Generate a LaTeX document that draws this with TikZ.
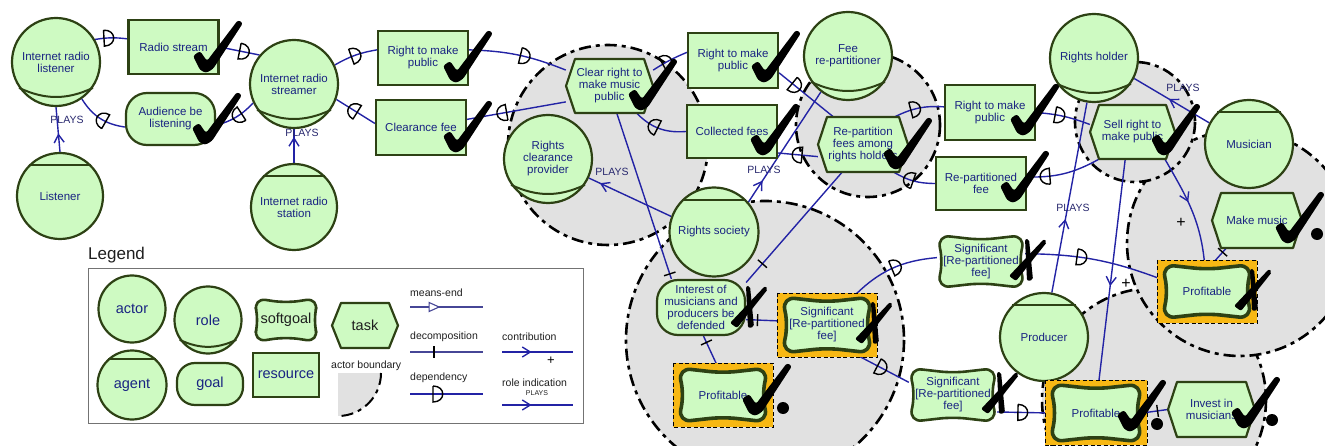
\documentclass[tikz,border=0pt]{standalone}
\usepackage{fontspec}
\setmainfont{Liberation Sans}
\usetikzlibrary{decorations.markings}

\definecolor{nodefill}{RGB}{206,250,194}
\definecolor{nodeline}{RGB}{45,65,20}
\definecolor{txt}{RGB}{25,35,130}
\definecolor{linkblue}{RGB}{35,35,165}
\definecolor{bgray}{RGB}{225,225,225}
\definecolor{hiyellow}{RGB}{247,184,20}
\definecolor{legdark}{RGB}{30,30,30}
\definecolor{leglink}{RGB}{70,70,150}
\definecolor{playsc}{RGB}{40,40,110}

\pgfdeclarelayer{bg}
\pgfdeclarelayer{lines}
\pgfdeclarelayer{marks}
\pgfsetlayers{bg,lines,main,marks}

\newcommand\ndfont{\fontsize{11.5}{12}\selectfont}
\newcommand\lgf{\fontsize{14.5}{15}\selectfont\color{legdark}}
\newcommand\lsmall{\fontsize{10.5}{11}\selectfont\color{legdark}}

\tikzset{
  base/.style={draw=nodeline, fill=nodefill, line width=2.2pt, text=txt,
    align=center, inner sep=1pt, font=\ndfont},
  actorc/.style={base, circle, minimum size=#1},
  resource/.style={base, rectangle, minimum width=90pt, minimum height=54pt},
  goal/.style={base, rectangle, rounded corners=21pt},
  tasktext/.style={rectangle, text=txt, align=center, inner sep=0pt, font=\ndfont},
  softtext/.style={rectangle, text=txt, align=center, inner sep=0pt, font=\ndfont},
  taskline/.style={draw=nodeline, fill=nodefill, line width=2.2pt, line join=round},
  softline/.style={draw=nodeline, fill=nodefill, line width=2.6pt, line join=round, rounded corners=13pt},
  hisoft/.style={softline, line width=3.6pt},
  hibox/.style={fill=hiyellow, draw=black, line width=0.8pt, dash pattern=on 4pt off 2.5pt},
  lensline/.style={draw=nodeline, line width=2pt},
  link/.style={draw=linkblue, line width=1.4pt},
  bline/.style={draw=black, line width=2.6pt, dash pattern=on 12pt off 5pt on 4pt off 5pt},
  dsym/.style={draw=black, line width=1.4pt},
  dep/.style={postaction={decorate, decoration={markings,
    mark=at position #1 with {\draw[dsym] (-4,-8) -- (-4,8) .. controls (9,8) and (9,-8) .. (-4,-8);}}}},
  decomp/.style={postaction={decorate, decoration={markings,
    mark=at position #1 with {\draw[dsym] (0,-6) -- (0,6);}}}},
  chev/.style={postaction={decorate, decoration={markings,
    mark=at position #1 with {\draw[draw=linkblue, line width=1.4pt] (-6,-5) -- (2,0) -- (-6,5);}}}},
  meansmk/.style={postaction={decorate, decoration={markings,
    mark=at position #1 with {\draw[draw=leglink, fill=white, line width=1.1pt] (-5,-4.5) -- (5,0) -- (-5,4.5) -- cycle;}}}},
  playstxt/.style={font=\fontsize{10.5}{10.5}\selectfont, text=playsc, inner sep=0pt},
  plustxt/.style={font=\fontsize{16}{16}\selectfont, text=black, inner sep=0pt},
  leglk/.style={draw=leglink, line width=1.1pt},
  legname/.style={font=\lsmall, inner sep=0pt, anchor=west},
  chk/.pic={\fill[black, rounded corners=2.5pt] (-12,-14) -- (-5,-19) -- (2,-9) -- (33,-50)
     -- (38,-47) -- (8,-1) -- (1,3) -- (-5,0) -- cycle;},
  xmk/.pic={\fill[black, rounded corners=2pt] (-3,-21) -- (1,-21) -- (5,20) -- (-1,21) -- cycle;
     \fill[black, rounded corners=2pt] (-19,16) -- (-12,21) -- (19,-18) -- (16,-21) -- cycle;},
}

% role: circle with a lens near its bottom; agent: circle with a bar near its top
\newcommand\rolelens[1]{\draw[lensline] (#1.215) to[bend right=25] (#1.325);}
\newcommand\agentbar[1]{\draw[lensline] (#1.135) -- (#1.45);}

% task: hexagon pointed at both ends
\newcommand\taskN[6]{%
  \path[taskline] ({#2-#4},#3) -- ({#2-#4+9},{#3-#5}) -- ({#2+#4-9},{#3-#5}) -- ({#2+#4},#3)
     -- ({#2+#4-9},{#3+#5}) -- ({#2-#4+9},{#3+#5}) -- cycle;
  \node[tasktext, minimum width={2*#4pt}, minimum height={2*#5pt}] (#1) at (#2,#3) {#6};}

% softgoal: rounded box whose sides curve slightly inwards
\newcommand\softN[7]{%
  \begin{scope}[shift={(#2,#3)}]
  \path[#6] (-#4,-#5) -- (0,{-#5+5}) -- (#4,-#5) -- ({#4-6},0) -- (#4,#5)
     -- (0,{#5-5}) -- (-#4,#5) -- ({-#4+6},0) -- cycle;
  \end{scope}
  \node[softtext, minimum width={2*#4pt}, minimum height={2*#5pt}] (#1) at (#2,#3) {#7};}

\newcommand\hilite[4]{\path[hibox] (#1,#2) rectangle (#3,#4);}

\begin{document}
\begin{tikzpicture}[x=1pt,y=-1pt]
\useasboundingbox (0,0) rectangle (1325,446);

% actor boundaries
\begin{pgfonlayer}{bg}
\foreach \cx/\cy/\r in {1154/400/112, 1240/243/113, 1135/122/60, 765/340/139, 868/125/72, 608/145/100} {
  \fill[bgray] (\cx,\cy) circle[radius=\r];
  \draw[bline] (\cx,\cy) circle[radius=\r];
}
\end{pgfonlayer}

% ---------- elements ----------
\node[actorc=88pt] (irl) at (56,62) {Internet radio\\listener}; \rolelens{irl}
\node[resource] (rs) at (173.5,47) {Radio stream};
\node[goal, minimum width=89pt, minimum height=52pt] (aud) at (170.5,119) {Audience be\\listening};
\node[actorc=88pt] (irs) at (294,84) {Internet radio\\streamer}; \rolelens{irs}
\node[actorc=86pt] (lis) at (60,196) {Listener}; \agentbar{lis}
\node[actorc=86pt] (ist) at (294,207) {Internet radio\\station}; \agentbar{ist}
\node[resource] (rmp1) at (423,58) {Right to make\\public};
\node[resource, minimum height=55pt] (cf) at (421,127.5) {Clearance fee};
\taskN{crt}{609.5}{86}{43.5}{27}{Clear right to\\make music\\public}
\node[actorc=88pt] (rcp) at (548,159) {Rights\\clearance\\provider}; \rolelens{rcp}
\node[resource, minimum height=55pt] (rmp2) at (733,60.5) {Right to make\\public};
\node[resource, minimum height=53pt] (cfees) at (732,131.5) {Collected fees};
\node[actorc=88pt] (frp) at (848,56) {Fee\\re-partitioner}; \rolelens{frp}
\taskN{rpt}{863}{144.5}{45}{27.5}{Re-partition\\fees among\\rights holders}
\node[resource, minimum height=55pt] (rmp3) at (990,112.5) {Right to make\\public};
\node[resource, minimum height=53pt] (rpf) at (981,183.5) {Re-partitioned\\fee};
\node[actorc=88pt] (rh) at (1094,58) {Rights holder}; \rolelens{rh}
\taskN{sell}{1132.5}{132}{42.5}{27}{Sell right to\\make public}
\node[actorc=88pt] (mus) at (1249,144) {Musician}; \agentbar{mus}
\taskN{mm}{1257}{220.5}{45}{27.5}{Make music}
\hilite{1157}{260}{1257}{323}
\softN{profm}{1207}{291.5}{45}{27}{hisoft}{Profitable}
\node[actorc=88pt] (prod) at (1044,337) {Producer}; \agentbar{prod}
\hilite{1045}{380}{1147}{445}
\softN{profp}{1096}{413}{46}{29}{hisoft}{Profitable}
\taskN{inv}{1211.5}{409.5}{43.5}{27.5}{Invest in\\musicians}
\node[actorc=89pt] (rsoc) at (714,232) {Rights society}; \agentbar{rsoc}
\node[goal, minimum width=88pt, minimum height=55pt] (int) at (701,307.5) {Interest of\\musicians and\\producers be\\defended};
\hilite{777}{293}{877}{357}
\softN{sig27}{827}{325}{45}{28}{hisoft}{Significant\\{[}Re-partitioned\\fee]}
\hilite{673}{363}{773}{427}
\softN{profrs}{723}{395}{45}{27}{hisoft}{Profitable}
\softN{sig1}{981}{261.5}{44}{26.5}{softline}{Significant\\{[}Re-partitioned\\fee]}
\softN{sig2}{953}{395}{44}{27}{softline}{Significant\\{[}Re-partitioned\\fee]}

% role indication labels and contribution signs
\node[playstxt] (pt1) at (67,120) {PLAYS};
\node[playstxt] (pt2) at (302,133) {PLAYS};
\node[playstxt] (pt3) at (612,172) {PLAYS};
\node[playstxt] (pt4) at (764,170) {PLAYS};
\node[playstxt] (pt5) at (1073,208) {PLAYS};
\node[playstxt] (pt6) at (1183,88) {PLAYS};
\node[plustxt] (pl1) at (1126,284) {+};
\node[plustxt] (pl2) at (1181,223) {+};

% ---------- links ----------
\begin{pgfonlayer}{lines}
% dependencies
\draw[link, dep=0.4] (irl.30) to[bend left=8] (rs.170);
\draw[link, dep=0.6] (rs.east) -- (irs.140);
\draw[link, dep=0.45] (aud.190) to[bend left=25] (irl.-55);
\draw[link, dep=0.45] (irs.205) to[bend left=15] (aud.-8);
\draw[link, dep=0.5] (irs.25) to[bend left=10] (rmp1.170);
\draw[link, dep=0.56] (rmp1.10) to[bend left=10] (crt.160);
\draw[link, dep=0.55] (cf.175) -- (irs.-20);
\draw[link, dep=0.64] (crt.200) -- (cf.10);
\draw[link, dep=0.4] (crt.20) to[bend left=5] (rmp2.170);
\draw[link, dep=0.3] (rmp2.-15) -- (rpt.137);
\draw[link, dep=0.6] (cfees.west) to[bend left=25] (crt.-45);
\draw[link, dep=0.5] (rpt.195) -- (cfees.-25);
\draw[link, dep=0.42] (rpt.41) to[bend left=15] (rmp3.173);
\draw[link, dep=0.42] (rmp3.east) to[bend left=8] (sell.170);
\draw[link, dep=0.6] (rpf.west) to[bend left=15] (rpt.-42);
\draw[link, dep=0.75] (sell.219) to[bend left=15] (rpf.8);
\draw[link, dep=0.55] (sig27.47) to[bend left=20] (sig1.175);
\draw[link, dep=0.4] (sig1.10) to[bend left=10] (profm.165);
\draw[link, dep=0.5] (sig27.-47) -- (sig2.164);
\draw[link, dep=0.47] (sig2.-21) -- (profp.west);
% decompositions
\draw[link, decomp=0.97] (crt.-75) -- (int.136);
\draw[link, decomp=0.83] (rpt.-127) -- (int.29);
\draw[link, decomp=0.2] (int.-85) -- (profrs.100);
\draw[link, decomp=0.68] (sig27.175) -- (int.-15);
\draw[link, decomp=0.75] (profm.80) -- (mm.-138);
\draw[link, decomp=0.4] (inv.west) -- (profp.east);
% contributions
\draw[link, chev=0.55] (sell.-105) -- (profp.85);
\draw[link, chev=0.4] (sell.-40) to[out=-60, in=95] (profm.95);
% role indications
\draw[link, chev=0.34] (lis.north) -- (irl.south);
\draw[link, chev=0.67] (ist.north) -- (irs.south);
\draw[link, chev=0.83] (rsoc.160) -- (rcp.-25);
\draw[link, chev=0.17] (rsoc.41) -- (frp.233);
\draw[link, chev=0.37] (prod.80) -- (rh.-99);
\draw[link, chev=0.5] (mus.152) -- (rh.-27);
\end{pgfonlayer}

% ---------- evaluation marks ----------
\begin{pgfonlayer}{marks}
\foreach \px/\py in {205/70, 204/142, 455/80, 455/150, 640/108, 763/80, 762/153, 895/167,
                     1022/133, 1012/200, 1163/153, 1287/241, 754/413, 1129/429, 1243/426}
  \pic at (\px,\py) {chk};
\foreach \px/\py in {749/307, 874/323, 1028/260, 1000/393, 1253/290}
  \pic at (\px,\py) {xmk};
\foreach \px/\py in {1317/234, 783/408, 1157/424, 1272/420}
  \fill[black] (\px,\py) circle[radius=6];
\end{pgfonlayer}

% ---------- legend ----------
\node[font=\fontsize{17}{17}\selectfont, text=legdark, anchor=west, inner sep=0pt] (legt) at (88,255) {Legend};
\draw[draw=black!55, line width=0.9pt] (88,268) rectangle (583,423);
\node[actorc=67pt, font=\lgf] (lact) at (132,309) {actor};
\node[actorc=69pt, font=\lgf] (lagt) at (132,385) {agent}; \draw[lensline] (lagt.132) -- (lagt.48);
\node[actorc=67pt, font=\lgf] (lrol) at (208,320) {role}; \rolelens{lrol}
\node[goal, rounded corners=18pt, minimum width=66pt, minimum height=42pt, font=\lgf] (lgoal) at (210,384) {goal};
\softN{lsoft}{286}{320}{33}{22}{softline}{\lgf softgoal}
\node[resource, minimum width=66pt, minimum height=44pt, font=\lgf] (lres) at (286,375) {resource};
\taskN{ltask}{365}{325.5}{33}{22.5}{\lgf task}
\node[legname] (lbnd) at (331,366) {actor boundary};
\fill[bgray] (338,373) -- (381,373) arc[start angle=0, end angle=90, radius=43] -- cycle;
\draw[bline, line width=2pt] (381,373) arc[start angle=0, end angle=90, radius=43];

\node[legname] (lme) at (410,293) {means-end};
\coordinate (me1) at (410,307); \coordinate (me2) at (483,307);
\draw[leglk, meansmk=0.33] (me1) -- (me2);
\node[legname] (lde) at (410,337) {decomposition};
\coordinate (de1) at (410,352); \coordinate (de2) at (483,352);
\draw[leglk, decomp=0.33] (de1) -- (de2);
\node[legname] (ldp) at (410,378) {dependency};
\coordinate (dp1) at (410,394); \coordinate (dp2) at (483,394);
\draw[leglk, draw=linkblue, dep=0.37] (dp1) -- (dp2);
\node[legname] (lco) at (502,337) {contribution};
\coordinate (co1) at (502,352); \coordinate (co2) at (573,352);
\draw[leglk, draw=linkblue, chev=0.37] (co1) -- (co2);
\node[plustxt, font=\fontsize{13}{13}\selectfont] (lplus) at (551,361) {+};
\node[legname] (lri) at (502,383) {role indication};
\node[font=\fontsize{7}{7}\selectfont, text=legdark, inner sep=0pt] (lpl) at (537,393) {PLAYS};
\coordinate (ri1) at (502,405); \coordinate (ri2) at (573,405);
\draw[leglk, draw=linkblue, chev=0.37] (ri1) -- (ri2);
\end{tikzpicture}
\end{document}
